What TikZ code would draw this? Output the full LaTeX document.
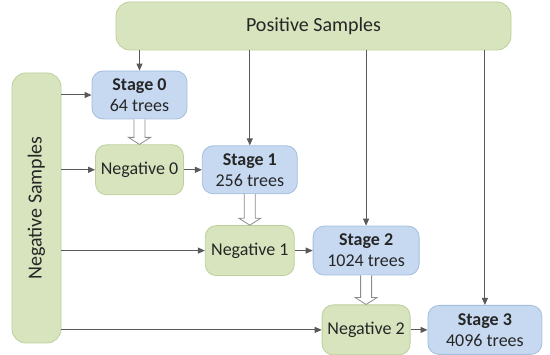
\documentclass[tikz,border=0pt]{standalone}
\usepackage{fontspec}
\setmainfont{Carlito}
\usetikzlibrary{arrows.meta, positioning, calc}
\definecolor{mygreen}{HTML}{D7E4BD}
\definecolor{mygreenline}{HTML}{BDD09C}
\definecolor{myblue}{HTML}{C6D9F1}
\definecolor{myblueline}{HTML}{A3BEDD}
\definecolor{darkgray}{HTML}{595959}
\definecolor{textgray}{HTML}{262626}
\definecolor{hollowgray}{HTML}{8C8C8C}

% hollow arrow from a stage down to the next negative set
\newcommand{\fatarrow}[2]{%
  \draw[hollow] ($(#1.south)+(-5.5,0)$) -- ($(#1.south |- #2.north)+(-5.5,-7)$) -- ++(-5.5,0)
    -- (#1.south |- #2.north) -- ++(11,-7) -- ++(-5.5,0) -- ($(#1.south)+(5.5,0)$);}

\begin{document}
\begin{tikzpicture}[
  x=1pt, y=-1pt,
  box/.style={rectangle, rounded corners=11pt, draw, line width=0.8pt, align=center, inner sep=2pt, text=textgray, font=\fontsize{18}{21}\selectfont},
  greenbox/.style={box, fill=mygreen, draw=mygreenline},
  bluebox/.style={box, fill=myblue, draw=myblueline},
  bigbox/.style={greenbox, rounded corners=14pt, font=\fontsize{20}{24}\selectfont},
  arr/.style={-{Triangle[length=7pt, width=6pt]}, line width=1pt, color=darkgray},
  hollow/.style={draw=hollowgray, fill=white, line width=0.8pt},
]
\useasboundingbox (0,0) rectangle (550,355);

%% Sample sets
\node[bigbox, minimum width=395pt, minimum height=48pt] (pos) at (313.5,26) {Positive Samples};
\node[bigbox, minimum width=49pt, minimum height=270pt] (neg) at (36.5,208) {\rotatebox{90}{Negative Samples}};

%% Stages and negatives
\node[bluebox, minimum width=95pt, minimum height=48pt] (s0) at (139.5,95) {\textbf{Stage 0}\\64 trees};
\node[greenbox, below=25pt of s0, minimum width=88pt, minimum height=50pt] (n0) {Negative 0};
\node[bluebox, right=18pt of n0, minimum width=95pt, minimum height=48pt] (s1) {\textbf{Stage 1}\\256 trees};
\node[greenbox, below=31pt of s1, minimum width=89pt, minimum height=50pt] (n1) {Negative 1};
\node[bluebox, right=18pt of n1, minimum width=106pt, minimum height=49pt] (s2) {\textbf{Stage 2}\\1024 trees};
\node[greenbox, below=29pt of s2, minimum width=88pt, minimum height=50pt] (n2) {Negative 2};
\node[bluebox, right=17pt of n2, minimum width=114pt, minimum height=49pt] (s3) {\textbf{Stage 3}\\4096 trees};

%% Arrows
\foreach \s in {s0,s1,s2,s3}
  \draw[arr] (\s |- pos.south) -- (\s);
\foreach \t in {s0,n0,n1,n2}
  \draw[arr] (neg.east |- \t) -- (\t);
\draw[arr] (n0) -- (s1);
\draw[arr] (n1) -- (s2);
\draw[arr] (n2) -- (s3);
\fatarrow{s0}{n0}
\fatarrow{s1}{n1}
\fatarrow{s2}{n2}

\end{tikzpicture}
\end{document}
